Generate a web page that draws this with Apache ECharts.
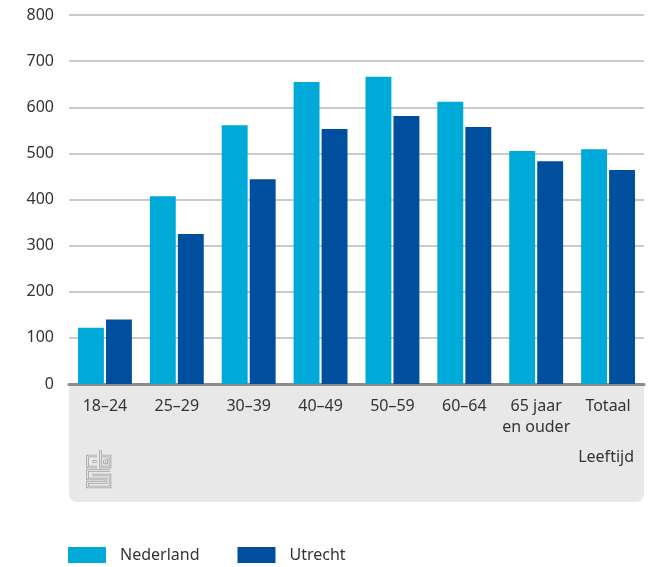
<!DOCTYPE html>
<html>
<head>
<meta charset="utf-8">
<script src="https://cdn.jsdelivr.net/npm/echarts@6/dist/echarts.min.js"></script>
<style>html,body{margin:0;padding:0;background:#fff}#c{width:658px;height:567px}</style>
</head>
<body>
<div id="c"></div>
<script>
var categories = ['18–24', '25–29', '30–39', '40–49', '50–59', '60–64', '65 jaar\nen ouder', 'Totaal'];
var nederland = [122, 407, 561, 655, 666, 612, 505, 509];
var utrecht = [140, 325, 444, 553, 581, 557, 483, 464];
var yTicks = { min: 0, max: 800, interval: 100 };

var FONT = 'Noto Sans';
var chart = echarts.init(document.getElementById('c'));

function logo(x0, y0, stroke, w) {
  var s = { stroke: stroke, lineWidth: w, fill: null };
  var P = function (pts) {
    return { type: 'polyline', shape: { points: pts.map(function (p) { return [x0 + p[0], y0 + p[1]]; }) }, style: s, z: 1 };
  };
  return [
    P([[11, 6], [1.5, 6], [1.5, 17], [11, 17]]),
    P([[11, 11.5], [6, 11.5]]),
    P([[14.5, 0], [14.5, 17], [24, 17], [24, 6], [14.5, 6]]),
    P([[18.5, 10], [20.5, 10], [20.5, 13], [18.5, 13], [18.5, 10]]),
    P([[24, 20.5], [1.5, 20.5], [1.5, 29], [20, 29], [20, 32.5], [1.5, 32.5], [1.5, 37], [24, 37], [24, 25], [6, 25]])
  ];
}

var graphics = [{
  type: 'rect',
  shape: { x: 69, y: 384, width: 575, height: 118, r: [0, 0, 8, 8] },
  style: { fill: '#e8e8e8' },
  z: -10
}].concat(logo(86, 450, '#a3a3a3', 2.6)).concat(logo(86, 450, '#e8e8e8', 0.9));

chart.setOption({
  animation: false,
  textStyle: { fontFamily: FONT },
  graphic: graphics,
  grid: { left: 69, right: 14, top: 15, bottom: 183, containLabel: false },
  legend: {
    left: 68, top: 547, padding: 0,
    itemWidth: 38, itemHeight: 16, itemGap: 38,
    icon: 'rect',
    textStyle: { fontFamily: FONT, fontSize: 16, color: '#333', padding: [0, 0, 0, 9] },
    data: ['Nederland', 'Utrecht']
  },
  xAxis: {
    type: 'category',
    data: categories,
    name: 'Leeftijd',
    nameLocation: 'end',
    nameGap: -10,
    nameTextStyle: { fontFamily: FONT, fontSize: 16, color: '#333', align: 'right', verticalAlign: 'top', padding: [65, 0, 0, 0] },
    axisLine: { lineStyle: { color: '#8c8c8c', width: 3 } },
    axisTick: { show: false },
    axisLabel: { fontFamily: FONT, fontSize: 16, color: '#333', margin: 12, lineHeight: 21, interval: 0 }
  },
  yAxis: {
    type: 'value',
    min: yTicks.min, max: yTicks.max, interval: yTicks.interval,
    axisLine: { show: false },
    axisTick: { show: false },
    axisLabel: { fontFamily: FONT, fontSize: 16, color: '#333', margin: 15 },
    splitLine: { lineStyle: { color: '#b8b8b8', width: 1.5 } }
  },
  series: [
    { name: 'Nederland', type: 'bar', data: nederland, barGap: '8%', barCategoryGap: '25%', itemStyle: { color: '#00aad8' } },
    { name: 'Utrecht', type: 'bar', data: utrecht, itemStyle: { color: '#004f9e' } }
  ]
});
</script>
</body>
</html>
